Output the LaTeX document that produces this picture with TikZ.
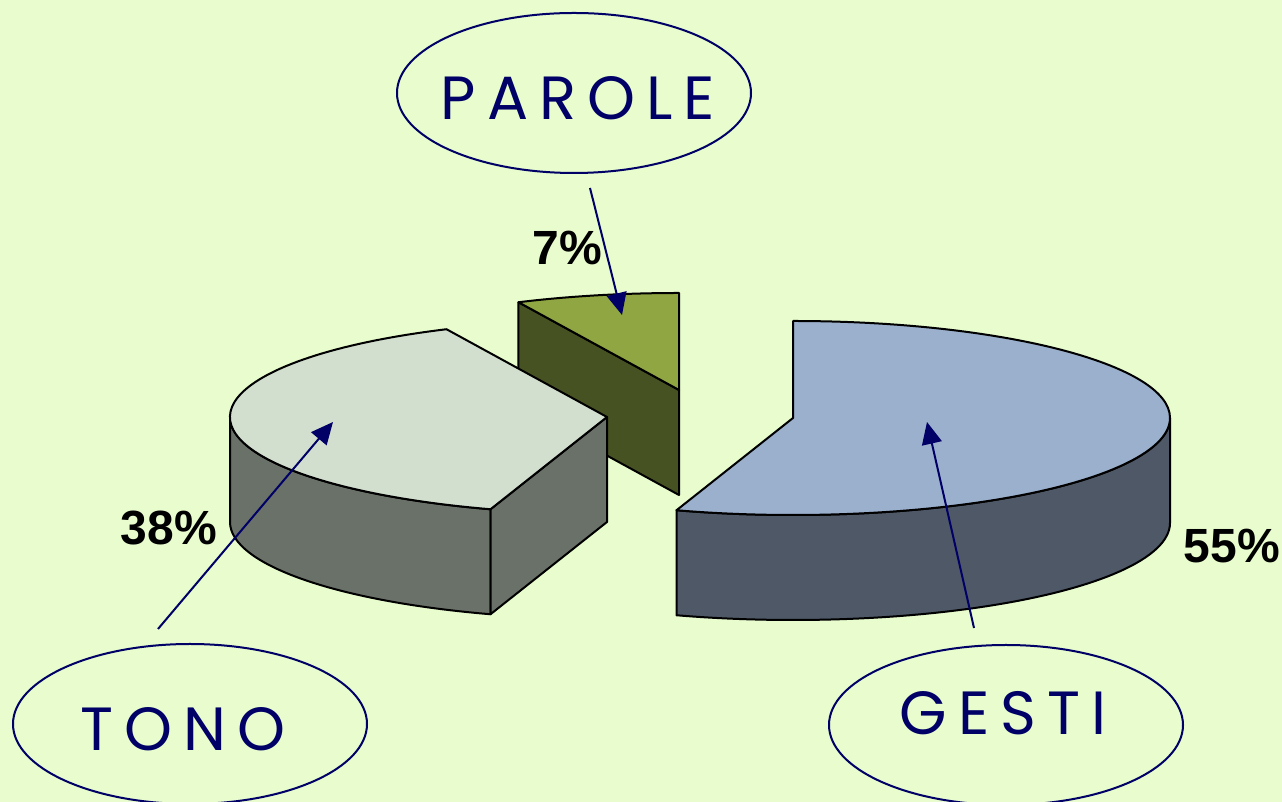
\documentclass[tikz,border=0pt]{standalone}
\usepackage{fontspec}
\usetikzlibrary{shapes.geometric,arrows.meta}
\newfontfamily\handfont[LetterSpace=18]{Poppins}
\newfontfamily\pctfont{Liberation Sans}
\definecolor{bgcol}{RGB}{232,252,206}
\definecolor{inkblue}{RGB}{0,0,102}
\definecolor{parolecol}{RGB}{143,166,66}
\definecolor{parolecut}{RGB}{71,82,35}
\definecolor{tonocol}{RGB}{210,223,207}
\definecolor{tonoside}{RGB}{106,113,105}
\definecolor{gesticol}{RGB}{155,176,204}
\definecolor{gestiside}{RGB}{78,88,102}
\def\rx{377pt}
\def\ry{97pt}
\def\dep{105}
\tikzset{
  slice/.style={draw=black, line width=2pt, line join=round},
  tag/.style={ellipse, draw=inkblue, line width=2pt, minimum width=354pt, minimum height=160pt, inner sep=0pt},
  tagtext/.style={text=inkblue, inner sep=0pt, font=\handfont\fontsize{61}{61}\selectfont},
  pct/.style={inner sep=0pt, font=\pctfont\bfseries\fontsize{48}{48}\selectfont},
  pointer/.style={-{Triangle[length=22pt,width=20pt]}, draw=inkblue, line width=2pt}
}

\begin{document}
\begin{tikzpicture}[x=1pt,y=1pt]
  \useasboundingbox (0,0) rectangle (1282,802);
  \fill[bgcol] (0,0) rectangle (1282,802);

  \begin{scope}[shift={(679,412)}]
    \filldraw[slice, fill=parolecut] (0,0) -- (115.2:377pt and 97pt) -- ++(0,-\dep) -- (0,-\dep) -- cycle;
    \filldraw[slice, fill=parolecol] (0,0) -- (0,\ry) arc[start angle=90, end angle=115.2, x radius=\rx, y radius=\ry] -- cycle;
  \end{scope}

  \begin{scope}[shift={(607,385)}]
    \filldraw[slice, fill=tonoside] (180:377pt and 97pt) arc[start angle=180, end angle=252, x radius=\rx, y radius=\ry]
      -- ++(0,-\dep) arc[start angle=252, end angle=180, x radius=\rx, y radius=\ry] -- cycle;
    \filldraw[slice, fill=tonoside] (0,0) -- (252:377pt and 97pt) -- ++(0,-\dep) -- (0,-\dep) -- cycle;
    \filldraw[slice, fill=tonocol] (0,0) -- (115.2:377pt and 97pt) arc[start angle=115.2, end angle=252, x radius=\rx, y radius=\ry] -- cycle;
  \end{scope}

  \begin{scope}[shift={(793,384)}]
    \filldraw[slice, fill=gestiside] (252:377pt and 97pt) arc[start angle=252, end angle=360, x radius=\rx, y radius=\ry]
      -- ++(0,-\dep) arc[start angle=360, end angle=252, x radius=\rx, y radius=\ry] -- cycle;
    \filldraw[slice, fill=gesticol] (0,0) -- (0,\ry) arc[start angle=90, end angle=-108, x radius=\rx, y radius=\ry] -- cycle;
  \end{scope}

  \node[pct] (pctparole) at (567,554) {7\%};
  \node[pct] (pcttono) at (169,274) {38\%};
  \node[pct] (pctgesti) at (1232,256) {55\%};

  \node[tag] (parole) at (574,709) {};
  \node[tag] (tono) at (190,78) {};
  \node[tag] (gesti) at (1006,77) {};
  \node[tagtext] (paroletext) at (578,704) {PAROLE};
  \node[tagtext] (tonotext) at (183,73) {TONO};
  \node[tagtext] (gestitext) at (1003,89) {GESTI};

  \coordinate (parolefoot) at (590,614);
  \coordinate (parolehead) at (622,487);
  \coordinate (tonofoot) at (158,173);
  \coordinate (tonohead) at (333,380);
  \coordinate (gestifoot) at (974,174);
  \coordinate (gestihead) at (927,380);
  \draw[pointer] (parolefoot) -- (parolehead);
  \draw[pointer] (tonofoot) -- (tonohead);
  \draw[pointer] (gestifoot) -- (gestihead);
\end{tikzpicture}
\end{document}
